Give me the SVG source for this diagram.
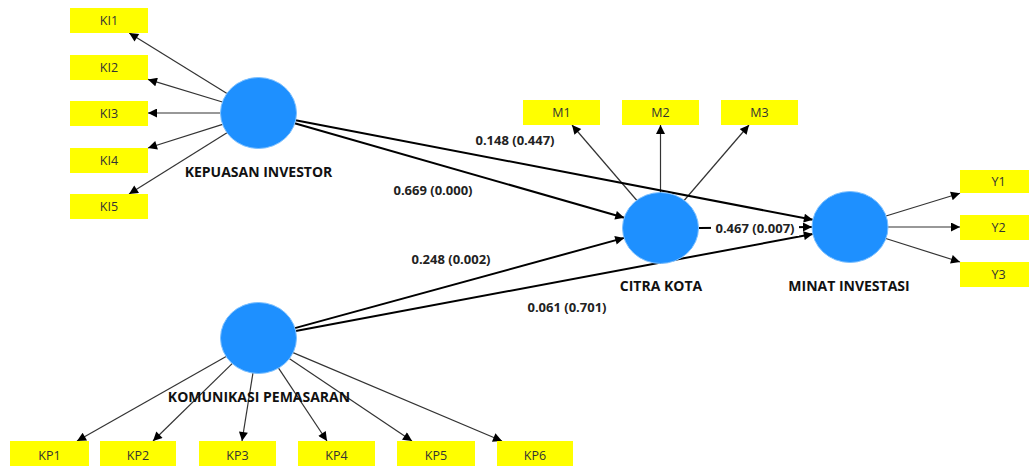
<svg xmlns="http://www.w3.org/2000/svg" width="1029" height="466" viewBox="0 0 1029 466">
<defs>
<style>
.ind{fill:#ffff00;stroke:none}
.lv{fill:#1e90ff;stroke:#7cc0ff;stroke-width:1}
.it{font-family:"Open Sans","Noto Sans",sans-serif;font-size:12.5px;fill:#333;text-anchor:middle;dominant-baseline:central}
.lt{font-family:"Open Sans","Noto Sans",sans-serif;font-size:14px;font-weight:bold;fill:#111;text-anchor:middle;dominant-baseline:central}
.pt{font-family:"Open Sans","Noto Sans",sans-serif;font-size:13px;font-weight:bold;fill:#222;text-anchor:middle;dominant-baseline:central}
.ml{stroke:#333;stroke-width:1.2;fill:none;marker-end:url(#ah)}
.sl{stroke:#000;stroke-width:2;fill:none;marker-end:url(#ahb)}
</style>
<marker id="ah" viewBox="0 0 10 10" refX="10" refY="5" markerWidth="11" markerHeight="9" markerUnits="userSpaceOnUse" orient="auto">
<path d="M0,0 L10,5 L0,10 z" fill="#000"/>
</marker>
<marker id="ahb" viewBox="0 0 10 10" refX="10" refY="5" markerWidth="12" markerHeight="9" markerUnits="userSpaceOnUse" orient="auto">
<path d="M0,0 L10,5 L0,10 z" fill="#000"/>
</marker>
</defs>
<rect width="1029" height="466" fill="#fff"/>
<g id="connectors">
<line class="ml" x1="227" y1="93.5" x2="129.2" y2="33"/>
<line class="ml" x1="222.4" y1="102" x2="148" y2="79.4"/>
<line class="ml" x1="220.5" y1="113" x2="148" y2="113"/>
<line class="ml" x1="222.6" y1="124.4" x2="148" y2="148"/>
<line class="ml" x1="227" y1="132.7" x2="129" y2="194"/>
<line class="ml" x1="636.9" y1="200.5" x2="572" y2="125"/>
<line class="ml" x1="660.5" y1="193" x2="660.5" y2="125"/>
<line class="ml" x1="684.1" y1="200.5" x2="749" y2="125"/>
<line class="ml" x1="886" y1="216" x2="960" y2="193.3"/>
<line class="ml" x1="888" y1="227" x2="960" y2="227"/>
<line class="ml" x1="885.8" y1="238.5" x2="960" y2="262"/>
<line class="ml" x1="226.1" y1="356.4" x2="77" y2="441"/>
<line class="ml" x1="232.4" y1="363.4" x2="153" y2="441"/>
<line class="ml" x1="253" y1="372.7" x2="242" y2="441"/>
<line class="ml" x1="278.4" y1="367.9" x2="327" y2="441"/>
<line class="ml" x1="289.2" y1="358.6" x2="412" y2="441"/>
<line class="ml" x1="293" y1="352.6" x2="502" y2="441"/>
<line class="sl" x1="294.6" y1="123.3" x2="624.3" y2="217.7"/>
<line class="sl" x1="295.6" y1="120.2" x2="812.9" y2="219.8"/>
<line class="sl" x1="698.5" y1="227.9" x2="812" y2="227"/>
<line class="sl" x1="294.8" y1="328.1" x2="624.2" y2="237.9"/>
<line class="sl" x1="295.7" y1="331" x2="812.8" y2="234"/>
<text class="pt" x="515" y="140">0.148 (0.447)</text>
<text class="pt" x="433" y="190">0.669 (0.000)</text>
<text class="pt" x="451" y="259">0.248 (0.002)</text>
<text class="pt" x="567" y="307">0.061 (0.701)</text>
<rect x="711" y="220" width="88" height="16" fill="#fff"/>
<text class="pt" x="755" y="228">0.467 (0.007)</text>
</g>
<g id="KI1"><rect class="ind" x="70" y="8" width="78" height="25"/><text class="it" x="109" y="20.5">KI1</text></g>
<g id="KI2"><rect class="ind" x="70" y="55" width="78" height="25"/><text class="it" x="109" y="67.5">KI2</text></g>
<g id="KI3"><rect class="ind" x="70" y="101" width="78" height="25"/><text class="it" x="109" y="113.5">KI3</text></g>
<g id="KI4"><rect class="ind" x="70" y="148" width="78" height="25"/><text class="it" x="109" y="160.5">KI4</text></g>
<g id="KI5"><rect class="ind" x="70" y="194" width="78" height="25"/><text class="it" x="109" y="206.5">KI5</text></g>
<g id="M1"><rect class="ind" x="523" y="100" width="77" height="25"/><text class="it" x="561.5" y="112.5">M1</text></g>
<g id="M2"><rect class="ind" x="622" y="100" width="77" height="25"/><text class="it" x="660.5" y="112.5">M2</text></g>
<g id="M3"><rect class="ind" x="721" y="100" width="77" height="25"/><text class="it" x="759.5" y="112.5">M3</text></g>
<g id="Y1"><rect class="ind" x="960" y="170" width="77" height="23"/><text class="it" x="998.5" y="181.5">Y1</text></g>
<g id="Y2"><rect class="ind" x="960" y="215" width="77" height="25"/><text class="it" x="998.5" y="227.5">Y2</text></g>
<g id="Y3"><rect class="ind" x="960" y="262" width="77" height="25"/><text class="it" x="998.5" y="274.5">Y3</text></g>
<g id="KP1"><rect class="ind" x="10" y="441" width="79" height="25"/><text class="it" x="49.5" y="455">KP1</text></g>
<g id="KP2"><rect class="ind" x="100" y="441" width="76" height="25"/><text class="it" x="138" y="455">KP2</text></g>
<g id="KP3"><rect class="ind" x="199" y="441" width="77" height="25"/><text class="it" x="237.5" y="455">KP3</text></g>
<g id="KP4"><rect class="ind" x="298" y="441" width="77" height="25"/><text class="it" x="336.5" y="455">KP4</text></g>
<g id="KP5"><rect class="ind" x="397" y="441" width="78" height="25"/><text class="it" x="436" y="455">KP5</text></g>
<g id="KP6"><rect class="ind" x="497" y="441" width="76" height="25"/><text class="it" x="535" y="455">KP6</text></g>
<g id="KEPUASAN_INVESTOR"><ellipse class="lv" cx="258.5" cy="113" rx="38" ry="35.5"/><text class="lt" x="258.5" y="171">KEPUASAN INVESTOR</text></g>
<g id="CITRA_KOTA"><ellipse class="lv" cx="660.5" cy="228" rx="38" ry="35.5"/><text class="lt" x="661" y="285">CITRA KOTA</text></g>
<g id="MINAT_INVESTASI"><ellipse class="lv" cx="850" cy="227" rx="38" ry="35.5"/><text class="lt" x="849" y="285">MINAT INVESTASI</text></g>
<g id="KOMUNIKASI_PEMASARAN"><ellipse class="lv" cx="258.5" cy="338" rx="38" ry="35.5"/><text class="lt" x="259" y="396">KOMUNIKASI PEMASARAN</text></g>
</svg>
